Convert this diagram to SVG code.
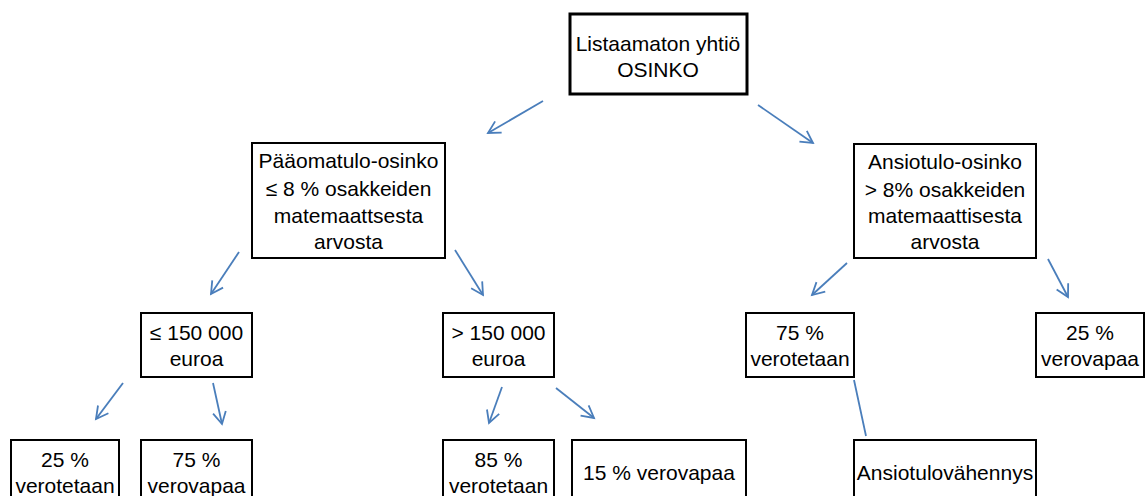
<svg xmlns="http://www.w3.org/2000/svg" width="1147" height="496" viewBox="0 0 1147 496">
<style>
.box{fill:#fff;stroke:#000;stroke-width:2}
.top{stroke-width:3}
text{font-family:"Liberation Sans",Arial,sans-serif;font-size:21px;fill:#000;text-anchor:middle}
.c{fill:none;stroke:#4a7ebb;stroke-width:1.8}
</style>
<defs>
<marker id="ah" markerUnits="userSpaceOnUse" markerWidth="20" markerHeight="20" viewBox="-14 -10 16 20" refX="0" refY="0" orient="auto">
<path d="M-12,-6.5 L0,0 L-12,6.5" fill="none" stroke="#4a7ebb" stroke-width="1.8"/>
</marker>
</defs>
<rect width="1147" height="496" fill="#fff"/>
<g id="connectors">
<line class="c" x1="543" y1="101" x2="488" y2="133" marker-end="url(#ah)"/>
<line class="c" x1="758" y1="105" x2="813" y2="143" marker-end="url(#ah)"/>
<line class="c" x1="239" y1="252" x2="211" y2="294" marker-end="url(#ah)"/>
<line class="c" x1="455" y1="250" x2="483" y2="295" marker-end="url(#ah)"/>
<line class="c" x1="847" y1="263" x2="812" y2="295" marker-end="url(#ah)"/>
<line class="c" x1="1048" y1="259" x2="1068" y2="297" marker-end="url(#ah)"/>
<line class="c" x1="123" y1="383" x2="96" y2="419" marker-end="url(#ah)"/>
<line class="c" x1="213" y1="383" x2="222" y2="424" marker-end="url(#ah)"/>
<line class="c" x1="502" y1="387" x2="489" y2="423" marker-end="url(#ah)"/>
<line class="c" x1="556" y1="388" x2="594" y2="418" marker-end="url(#ah)"/>
<line class="c" x1="854" y1="380" x2="866" y2="436"/>
</g>
<g id="n-root">
<rect class="box top" x="570" y="14" width="177" height="80"/>
<text x="658" y="51">Listaamaton yhtiö</text>
<text x="658" y="77">OSINKO</text>
</g>
<g id="n-paaoma">
<rect class="box" x="252" y="143" width="193" height="115"/>
<text x="348.5" y="168">Pääomatulo-osinko</text>
<text x="348.5" y="196">≤ 8 % osakkeiden</text>
<text x="348.5" y="223">matemaattsesta</text>
<text x="348.5" y="249">arvosta</text>
</g>
<g id="n-ansio">
<rect class="box" x="854" y="144" width="182" height="114"/>
<text x="945" y="169">Ansiotulo-osinko</text>
<text x="945" y="197">&gt; 8% osakkeiden</text>
<text x="945" y="223">matemaattisesta</text>
<text x="945" y="249">arvosta</text>
</g>
<g id="n-le150">
<rect class="box" x="141" y="313" width="111" height="64"/>
<text x="196.5" y="340">≤ 150 000</text>
<text x="196.5" y="366">euroa</text>
</g>
<g id="n-gt150">
<rect class="box" x="443" y="313" width="111" height="64"/>
<text x="498.5" y="340">&gt; 150 000</text>
<text x="498.5" y="366">euroa</text>
</g>
<g id="n-75vero">
<rect class="box" x="746" y="313" width="108" height="64"/>
<text x="800" y="340">75 %</text>
<text x="800" y="366">verotetaan</text>
</g>
<g id="n-25vapaa">
<rect class="box" x="1036" y="313" width="108" height="64"/>
<text x="1090" y="340">25 %</text>
<text x="1090" y="366">verovapaa</text>
</g>
<g id="n-25vero">
<rect class="box" x="11" y="440" width="108" height="70"/>
<text x="65" y="467">25 %</text>
<text x="65" y="493">verotetaan</text>
</g>
<g id="n-75vapaa">
<rect class="box" x="141" y="440" width="111" height="70"/>
<text x="196.5" y="467">75 %</text>
<text x="196.5" y="493">verovapaa</text>
</g>
<g id="n-85vero">
<rect class="box" x="443" y="440" width="111" height="70"/>
<text x="498.5" y="467">85 %</text>
<text x="498.5" y="493">verotetaan</text>
</g>
<g id="n-15vapaa">
<rect class="box" x="572" y="440" width="174" height="70"/>
<text x="659" y="480">15 % verovapaa</text>
</g>
<g id="n-ansiovah">
<rect class="box" x="854" y="440" width="182" height="70"/>
<text x="945" y="480">Ansiotulovähennys</text>
</g>
</svg>
